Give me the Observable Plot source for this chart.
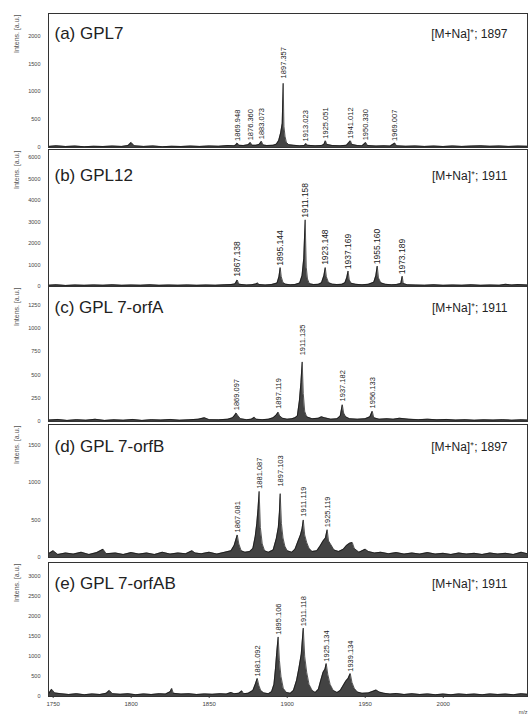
<!DOCTYPE html>
<html><head><meta charset="utf-8">
<script src="https://cdn.jsdelivr.net/npm/d3@7"></script>
<script src="https://cdn.jsdelivr.net/npm/@observablehq/plot@0.6"></script>
<style>
body{margin:0;background:#fff}
#chart svg{display:block}
</style>
</head><body><div id="chart"></div>
<script>
// ---- data ----
const xTicks = [1750, 1800, 1850, 1900, 1950, 2000];
const panelTitles = ["(a) GPL7", "(b) GPL12", "(c) GPL 7-orfA", "(d) GPL 7-orfB", "(e) GPL 7-orfAB"];
const ionLabels = ["[M+Na]⁺; 1897", "[M+Na]⁺; 1911", "[M+Na]⁺; 1911", "[M+Na]⁺; 1897", "[M+Na]⁺; 1911"];
const yTicksA = [0, 500, 1000, 1500, 2000];
const yTicksB = [0, 1000, 2000, 3000, 4000, 5000, 6000];
const yTicksC = [0, 250, 500, 750, 1000, 1250];
const yTicksD = [0, 500, 1000, 1500];
const yTicksE = [0, 500, 1000, 1500, 2000, 2500, 3000];
const yMaxes = [2400, 6370, 1450, 1770, 3330];

// spectra: [m/z, intensity]
const specA = [[1747,20],[1752,30],[1758,18],[1764,25],[1770,15],[1776,22],[1782,18],[1788,25],[1794,20],[1798,35],[1800,90],[1802,30],[1808,20],[1814,28],[1820,15],[1826,22],[1832,18],[1838,25],[1844,20],[1850,28],[1856,22],[1862,35],[1866,30],[1867,45],[1868,80],[1869,40],[1872,35],[1875,50],[1876.4,90],[1877.5,40],[1880,40],[1882,55],[1883.5,110],[1884.5,45],[1887,35],[1891,40],[1893,60],[1894.5,120],[1895.8,260],[1896.8,430],[1897.4,1150],[1897.9,380],[1898.6,200],[1899.5,90],[1901,50],[1904,40],[1908,30],[1911,35],[1912,70],[1913,40],[1918,30],[1922,35],[1923.5,55],[1924.5,120],[1925.5,55],[1929,35],[1934,30],[1938,40],[1940.5,120],[1941.5,55],[1945,35],[1948,30],[1950.3,90],[1951.5,35],[1957,25],[1962,30],[1966,25],[1969,80],[1970,30],[1976,22],[1982,28],[1988,20],[1994,25],[2000,18],[2006,28],[2012,20],[2018,25],[2024,30],[2030,22],[2036,28],[2042,20],[2048,25],[2054,22]];
const specB = [[1747,60],[1752,80],[1758,50],[1764,70],[1770,55],[1776,75],[1782,60],[1788,80],[1794,55],[1800,70],[1806,60],[1812,80],[1818,55],[1824,70],[1830,60],[1836,75],[1842,55],[1848,70],[1854,60],[1860,80],[1864,90],[1866.5,120],[1868,300],[1869,110],[1871,90],[1874,70],[1877,80],[1880,120],[1881,160],[1882,90],[1886,70],[1890,90],[1893.5,160],[1894.7,450],[1895.5,880],[1896.2,450],[1897.3,180],[1899,110],[1902,80],[1905,90],[1908,160],[1909.5,500],[1910.6,1300],[1911.5,3100],[1912.2,900],[1913,350],[1914.2,130],[1917,90],[1920,100],[1922,170],[1923.5,500],[1924.4,880],[1925.1,450],[1926.5,180],[1929,110],[1932,90],[1935,100],[1937,170],[1938.2,420],[1939,720],[1939.8,300],[1941,150],[1944,100],[1948,80],[1952,100],[1955.5,200],[1956.8,500],[1957.7,950],[1958.5,400],[1960,170],[1963,100],[1967,80],[1970,90],[1972.8,140],[1973.7,480],[1974.4,140],[1977,80],[1982,70],[1988,60],[1994,80],[2000,55],[2006,70],[2012,60],[2018,80],[2024,55],[2030,70],[2036,60],[2040,100],[2044,70],[2048,90],[2054,70]];
const specC = [[1747,15],[1753,22],[1759,12],[1765,20],[1771,14],[1777,24],[1783,12],[1789,18],[1795,14],[1801,22],[1807,12],[1813,20],[1819,15],[1825,22],[1831,14],[1837,18],[1843,25],[1847,40],[1850,20],[1856,18],[1862,25],[1865,40],[1866.5,70],[1867.3,90],[1868.5,60],[1870,30],[1874,20],[1877,25],[1879,45],[1880,25],[1884,20],[1888,25],[1891,40],[1893,70],[1894.2,100],[1895.2,60],[1897,35],[1900,25],[1903,30],[1905,40],[1906.5,60],[1907.8,220],[1908.8,420],[1909.6,640],[1910.3,300],[1911.2,110],[1912.5,50],[1916,30],[1920,35],[1922,50],[1924,40],[1928,25],[1932,30],[1934,60],[1935.3,180],[1936.2,90],[1937.5,50],[1940,30],[1945,25],[1950,30],[1953,50],[1954.5,110],[1955.5,40],[1959,25],[1964,30],[1968,25],[1972,35],[1978,25],[1984,20],[1990,25],[1996,18],[2002,22],[2008,15],[2014,20],[2020,14],[2026,18],[2032,15],[2038,20],[2044,14],[2050,18],[2054,15]];
const specD = [[1747,50],[1750,90],[1753,40],[1758,60],[1763,45],[1768,70],[1773,40],[1778,65],[1782,110],[1784,50],[1790,60],[1795,40],[1800,65],[1805,45],[1810,60],[1815,40],[1820,70],[1825,45],[1830,60],[1835,50],[1839,90],[1841,60],[1845,50],[1850,70],[1855,45],[1860,70],[1864,90],[1866,160],[1867,230],[1868,300],[1869,180],[1870.5,90],[1873,70],[1876,80],[1878,120],[1879.5,280],[1880.5,450],[1881.3,650],[1882,880],[1882.8,400],[1884,180],[1885.5,90],[1888,70],[1891,100],[1893,250],[1894.3,400],[1895,600],[1895.5,850],[1896.3,450],[1897.3,260],[1898.5,150],[1900,90],[1903,70],[1905,110],[1907,220],[1908.5,300],[1909.5,380],[1910.3,500],[1911.2,300],[1912.5,200],[1914,120],[1916,80],[1919,90],[1921,150],[1923,220],[1924.5,260],[1925.6,370],[1926.5,220],[1928,170],[1930,100],[1933,80],[1936,110],[1938,160],[1940,190],[1941.7,200],[1943,120],[1946,70],[1948,90],[1950,110],[1952,80],[1956,60],[1960,70],[1965,50],[1970,65],[1975,45],[1980,60],[1985,45],[1990,65],[1995,45],[2000,55],[2005,40],[2010,60],[2015,45],[2020,55],[2025,40],[2030,60],[2035,45],[2040,55],[2045,40],[2050,70],[2054,50]];
const specE = [[1747,60],[1749,180],[1751,90],[1755,70],[1760,50],[1765,70],[1770,45],[1775,65],[1780,50],[1784,80],[1786,150],[1788,70],[1793,55],[1798,70],[1803,45],[1808,65],[1813,50],[1818,70],[1822,60],[1825,120],[1826,200],[1827,80],[1832,60],[1837,70],[1842,50],[1847,65],[1852,55],[1857,70],[1861,60],[1864,100],[1866,70],[1869,80],[1871,140],[1872,70],[1875,80],[1878,150],[1879.5,300],[1880.8,450],[1881.8,280],[1883,150],[1885,90],[1888,70],[1890,120],[1891.5,300],[1892.5,700],[1893.3,1100],[1894.2,1480],[1895,900],[1896,500],[1897.5,200],[1899.5,100],[1902,80],[1904,150],[1906,400],[1907.5,700],[1909,1050],[1910.3,1700],[1911.2,1000],[1912.5,600],[1914,300],[1916,150],[1918,100],[1920,180],[1921.5,400],[1923,600],[1924.2,680],[1925,820],[1926,550],[1927.5,300],[1929.5,150],[1932,100],[1934,150],[1936,280],[1937.5,380],[1939,450],[1940.4,570],[1941.5,350],[1943,200],[1945,110],[1948,80],[1952,90],[1955,130],[1957,160],[1959,110],[1962,80],[1966,60],[1970,75],[1975,50],[1980,70],[1985,50],[1990,65],[1995,45],[2000,60],[2005,45],[2010,65],[2015,50],[2020,60],[2025,45],[2030,65],[2035,50],[2040,60],[2045,45],[2050,70],[2054,55]];

// peak annotations: position, text, label anchor height
const peakMzA = [1868, 1876.4, 1883.5, 1897.4, 1912, 1924.5, 1940.5, 1950.3, 1969];
const peakTextA = ["1869.948", "1876.360", "1883.073", "1897.357", "1913.023", "1925.051", "1941.012", "1950.330", "1969.007"];
const peakTopA = [100, 110, 130, 1220, 90, 140, 140, 110, 100];
const peakMzB = [1868, 1895.5, 1911.5, 1924.4, 1939, 1957.7, 1973.7];
const peakTextB = ["1867.138", "1895.144", "1911.158", "1923.148", "1937.169", "1955.160", "1973.189"];
const peakTopB = [410, 920, 3150, 960, 760, 990, 520];
const peakMzC = [1867.3, 1894.2, 1909.6, 1935.3, 1954.5];
const peakTextC = ["1869.097", "1897.119", "1911.135", "1937.182", "1956.133"];
const peakTopC = [110, 125, 700, 205, 130];
const peakMzD = [1868, 1882, 1895.5, 1910.3, 1925.6];
const peakTextD = ["1867.081", "1881.087", "1897.103", "1911.119", "1925.119"];
const peakTopD = [320, 900, 930, 530, 390];
const peakMzE = [1880.8, 1894.2, 1910.3, 1925, 1940.4];
const peakTextE = ["1881.092", "1895.106", "1911.118", "1925.134", "1939.134"];
const peakTopE = [470, 1510, 1720, 840, 590];

// ---- layout ----
const layouts = [
  {height: 147, mt: 13, mb: 0, titleDy: 25, peakFont: 7.5},
  {height: 139, mt: 2, mb: 0, titleDy: 31, peakFont: 8.5},
  {height: 135, mt: 0, mb: 0, titleDy: 26, peakFont: 7.5},
  {height: 136, mt: 3, mb: 0, titleDy: 27, peakFont: 7.5},
  {height: 160, mt: 5, mb: 21, titleDy: 26, peakFont: 7.5}
];
const specs = [specA, specB, specC, specD, specE];
const yTicksAll = [yTicksA, yTicksB, yTicksC, yTicksD, yTicksE];
const peaksAll = [
  [peakMzA, peakTextA, peakTopA], [peakMzB, peakTextB, peakTopB], [peakMzC, peakTextC, peakTopC],
  [peakMzD, peakTextD, peakTopD], [peakMzE, peakTextE, peakTopE]
];

const font = "'Liberation Sans', Arial, Helvetica, sans-serif";
const chart = document.getElementById("chart");

for (let i = 0; i < 5; i++) {
  const L = layouts[i];
  const [pm, pt, ph] = peaksAll[i];
  const peaks = pm.map((m, j) => ({mz: m, text: pt[j], top: ph[j]}));
  const last = i === 4;
  const marks = [
    Plot.areaY(specs[i], {x: d => d[0], y: d => d[1], fill: "#222", fillOpacity: 0.85, clip: true}),
    Plot.line(specs[i], {x: d => d[0], y: d => d[1], stroke: "#111", strokeWidth: 0.7, clip: true}),
    Plot.text(peaks, {x: "mz", y: "top", text: "text", rotate: -90, textAnchor: "start", lineAnchor: "middle", dy: -1, fontSize: L.peakFont, fill: "#1a1a1a"}),
    Plot.text([panelTitles[i]], {text: d => d, frameAnchor: "top-left", textAnchor: "start", lineAnchor: "bottom", dx: 6, dy: L.titleDy, fontSize: 17, fill: "#222"}),
    Plot.text([ionLabels[i]], {text: d => d, frameAnchor: "top-right", textAnchor: "end", lineAnchor: "bottom", dx: -20, dy: L.titleDy - 1, fontSize: 12, fill: "#222"}),
    Plot.text(["Intens. [a.u.]"], {text: d => d, frameAnchor: "top-left", rotate: -90, textAnchor: "end", lineAnchor: "middle", dx: -32, dy: 1, fontSize: 7, fill: "#555"}),
    Plot.frame({stroke: "#333", strokeWidth: 1})
  ];
  if (last) {
    marks.push(Plot.text(["m/z"], {text: d => d, frameAnchor: "bottom-right", textAnchor: "end", lineAnchor: "top", dx: 0, dy: 14, fontSize: 5.5, fill: "#444"}));
  }
  const svg = Plot.plot({
    width: 529,
    height: L.height,
    marginLeft: 48,
    marginRight: 2,
    marginTop: L.mt,
    marginBottom: L.mb,
    style: {fontFamily: font, fontSize: "5.5px", color: "#444", background: "#fff", overflow: "visible"},
    x: {domain: [1747, 2054], axis: last ? "bottom" : null, ticks: xTicks, tickFormat: d => String(d), tickSize: 2, tickPadding: 3, label: null},
    y: {domain: [0, yMaxes[i]], ticks: yTicksAll[i], tickFormat: d => String(d), tickSize: 0, tickPadding: 8, label: null},
    marks
  });
  if (last) {
    svg.querySelectorAll('[aria-label="x-axis tick label"] text').forEach(t => t.setAttribute("font-size", "6px"));
  }
  chart.appendChild(svg);
}
</script>
</body></html>
